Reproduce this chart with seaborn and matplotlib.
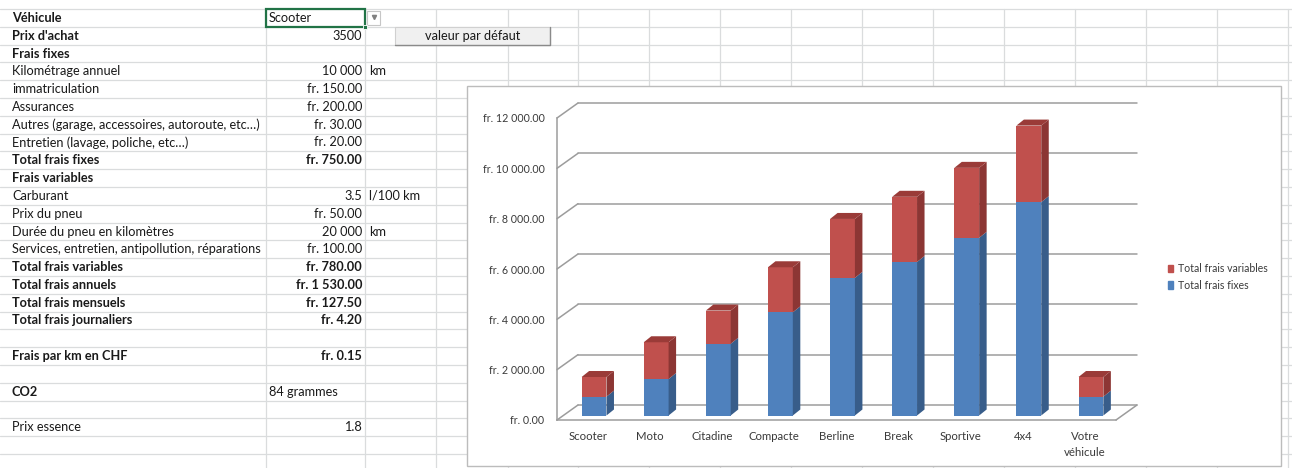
import numpy as np
import pandas as pd
import matplotlib
matplotlib.use("Agg")
import matplotlib.pyplot as plt
import matplotlib.patches as mpatches
import matplotlib.transforms as mtransforms
from matplotlib.ticker import FuncFormatter
import seaborn as sns

# ---- chart data -------------------------------------------------------
vehicules = ["Scooter", "Moto", "Citadine", "Compacte", "Berline", "Break",
             "Sportive", "4x4", "Votre\nvéhicule"]
frais_fixes = [750, 1450, 2850, 4100, 5470, 6100, 7060, 8480, 750]
frais_variables = [780, 1460, 1320, 1790, 2340, 2590, 2780, 3040, 780]
series_names = ["Total frais fixes", "Total frais variables"]
y_ticks = [0, 2000, 4000, 6000, 8000, 10000, 12000]

# ---- sheet content ----------------------------------------------------
sheet_labels = [
    "Véhicule", "Prix d'achat", "Frais fixes", "Kilométrage annuel",
    "immatriculation", "Assurances",
    "Autres (garage, accessoires, autoroute, etc…)",
    "Entretien (lavage, poliche, etc…)", "Total frais fixes",
    "Frais variables", "Carburant", "Prix du pneu",
    "Durée du pneu en kilomètres",
    "Services, entretien, antipollution, réparations",
    "Total frais variables", "Total frais annuels", "Total frais mensuels",
    "Total frais journaliers", "", "Frais par km en CHF", "", "CO2", "",
    "Prix essence",
]
sheet_values = [
    "Scooter", "3500", "", "10 000", "fr. 150.00", "fr. 200.00", "fr. 30.00",
    "fr. 20.00", "fr. 750.00", "", "3.5", "fr. 50.00", "20 000", "fr. 100.00",
    "fr. 780.00", "fr. 1 530.00", "fr. 127.50", "fr. 4.20", "", "fr. 0.15", "",
    "84 grammes", "", "1.8",
]
sheet_units = ["", "", "", "km", "", "", "", "", "", "", "l/100 km", "", "km",
               "", "", "", "", "", "", "", "", "", "", ""]
label_bold = [1, 1, 1, 0, 0, 0, 0, 0, 1, 1, 0, 0, 0, 0, 1, 1, 1, 1, 0, 1, 0, 1, 0, 0]
value_bold = [0, 0, 0, 0, 0, 0, 0, 0, 1, 0, 0, 0, 0, 0, 1, 1, 1, 1, 0, 1, 0, 0, 0, 0]
value_left = [1, 0, 0, 0, 0, 0, 0, 0, 0, 0, 0, 0, 0, 0, 0, 0, 0, 0, 0, 0, 0, 1, 0, 0]
button_text = "valeur par défaut"

# ---- styling ----------------------------------------------------------
sns.set_theme(style="white")
plt.rcParams["font.family"] = ["Lato", "DejaVu Sans"]

BLUE, BLUE_SIDE = "#4F81BD", "#385D8A"
RED, RED_SIDE, RED_TOP = "#C0504D", "#8C3634", "#9A3B38"
GRID = "#9c9c9c"
SHEET_LINE = "#dadcdd"
TXT = "#1a1a1a"
W, H = 1292, 468

fig = plt.figure(figsize=(W / 100, H / 100), dpi=100)
fig.patch.set_facecolor("white")

# background layer in pixel units for the worksheet
bg = fig.add_axes([0, 0, 1, 1], zorder=0)
bg.set_xlim(0, W)
bg.set_ylim(H, 0)
bg.axis("off")

row_h = 17.8
row_top = 9.0
col_lines = [266, 365, 436, 508, 578, 649, 720, 791, 862, 933, 1004, 1075,
             1146, 1217, 1288]
for k in range(27):
    y = row_top + k * row_h
    bg.plot([0, W], [y, y], color=SHEET_LINE, lw=0.9, zorder=1)
for x in col_lines:
    bg.plot([x, x], [row_top, H], color=SHEET_LINE, lw=0.9, zorder=1)

SHEET_FS = 9.2
for i, lab in enumerate(sheet_labels):
    yc = row_top + (i + 0.5) * row_h
    if lab:
        bg.text(12, yc, lab, fontsize=SHEET_FS, va="center", ha="left",
                color=TXT, fontweight="bold" if label_bold[i] else "normal",
                zorder=3)
    val = sheet_values[i]
    if val:
        if value_left[i]:
            bg.text(269, yc, val, fontsize=SHEET_FS, va="center", ha="left",
                    color=TXT, zorder=3)
        else:
            bg.text(362, yc, val, fontsize=SHEET_FS, va="center", ha="right",
                    color=TXT,
                    fontweight="bold" if value_bold[i] else "normal", zorder=3)
    if sheet_units[i]:
        bg.text(369, yc, sheet_units[i], fontsize=SHEET_FS, va="center",
                ha="left", color=TXT, zorder=3)

# selected cell with its fill handle, and the list arrow
bg.add_patch(mpatches.Rectangle((266, row_top), 99, row_h, fill=False,
                                edgecolor="#217346", lw=1.6, zorder=4))
bg.add_patch(mpatches.Rectangle((363, row_top + row_h - 2), 4, 4,
                                facecolor="#217346", edgecolor="white",
                                lw=0.6, zorder=5))
bg.add_patch(mpatches.Rectangle((367, 10.5), 13, 14, facecolor="white",
                                edgecolor="#c6c6c6", lw=0.8, zorder=4))
bg.plot([373.5], [16.5], marker="v", ms=3, color="#808080", zorder=5)

# form button
bg.add_patch(mpatches.Rectangle((395, 27), 155, 18, facecolor="#f0f0f0",
                                edgecolor="#d0d0d0", lw=0.8, zorder=4))
bg.plot([395, 550, 550], [45, 45, 27], color="#8a8a8a", lw=1.0, zorder=5)
bg.text(472.5, 36, button_text, fontsize=SHEET_FS, ha="center", va="center",
        color=TXT, zorder=6)

# chart panel
bg.add_patch(mpatches.Rectangle((467, 86), 814, 380, facecolor="white",
                                edgecolor="#bcbcbc", lw=1.0, zorder=6))

# ---- chart ------------------------------------------------------------
x_left, x_right = 557, 1116      # front floor edge
y_zero, y_top = 420, 118         # front plane values 0 and 12000
ax = fig.add_axes([x_left / W, 1 - y_zero / H, (x_right - x_left) / W,
                   (y_zero - y_top) / H], zorder=2)
ax.patch.set_alpha(0)

totals = [f + v for f, v in zip(frais_fixes, frais_variables)]
sns.barplot(x=vehicules, y=totals, color=RED, saturation=1, width=0.4,
            linewidth=0, ax=ax, zorder=3)
sns.barplot(x=vehicules, y=frais_fixes, color=BLUE, saturation=1, width=0.4,
            linewidth=0, ax=ax, zorder=3)
red_bars = list(ax.patches)[:len(vehicules)]
blue_bars = list(ax.patches)[len(vehicules):2 * len(vehicules)]

ax.set_xlim(-0.5, len(vehicules) - 0.5)
ax.set_ylim(0, y_ticks[-1])

# pixel <-> data conversion for the oblique depth
px_x = ax.bbox.width / (len(vehicules))
px_y = ax.bbox.height / y_ticks[-1]


def dx(p):
    return p / px_x


def dy(p):
    return p / px_y


# back wall and floor
wall_dx, wall_dy = 21, 15
x0, x1 = -0.5, len(vehicules) - 0.5
for v in y_ticks:
    ax.plot([x0 + dx(wall_dx), x1 + dx(wall_dx)], [v + dy(wall_dy)] * 2,
            color=GRID, lw=1.1, clip_on=False, zorder=1)
    ax.plot([x0, x0 + dx(wall_dx)], [v, v + dy(wall_dy)], color=GRID, lw=1.1,
            clip_on=False, zorder=1)
ax.plot([x1, x1 + dx(wall_dx)], [0, dy(wall_dy)], color=GRID, lw=1.1,
        clip_on=False, zorder=1)

# bars stand midway in the depth of the floor
shift = mtransforms.ScaledTranslation(6 / 100, 4.5 / 100, fig.dpi_scale_trans)
bar_tr = ax.transData + shift
depth_x, depth_y = dx(7.5), dy(6)
for rb, bb in zip(red_bars, blue_bars):
    rb.set_transform(bar_tr)
    bb.set_transform(bar_tr)
    rb.set_clip_on(False)
    bb.set_clip_on(False)
    xl = bb.get_x()
    xr = xl + bb.get_width()
    hb = bb.get_height()
    hr = rb.get_height()
    faces = [
        ([(xr, 0), (xr + depth_x, depth_y), (xr + depth_x, hb + depth_y),
          (xr, hb)], BLUE_SIDE),
        ([(xr, hb), (xr + depth_x, hb + depth_y), (xr + depth_x, hr + depth_y),
          (xr, hr)], RED_SIDE),
        ([(xl, hr), (xr, hr), (xr + depth_x, hr + depth_y),
          (xl + depth_x, hr + depth_y)], RED_TOP),
    ]
    for verts, col in faces:
        ax.add_patch(mpatches.Polygon(verts, closed=True, facecolor=col,
                                      edgecolor="none", transform=bar_tr,
                                      clip_on=False, zorder=3))

# axes
for side in ("top", "right"):
    ax.spines[side].set_visible(False)
for side in ("left", "bottom"):
    ax.spines[side].set_color(GRID)
    ax.spines[side].set_linewidth(1.1)
ax.set_yticks(y_ticks)
ax.yaxis.set_major_formatter(
    FuncFormatter(lambda v, _: "fr. " + f"{v:,.2f}".replace(",", " ")))
ax.set_xticks(np.arange(-0.5, len(vehicules), 1), minor=True)
ax.tick_params(axis="y", length=2, color=GRID, pad=7, labelsize=7.7,
               labelcolor="#3a3a3a")
ax.tick_params(axis="x", which="major", length=0, pad=8, labelsize=8.2,
               labelcolor="#3a3a3a")
ax.tick_params(axis="x", which="minor", length=4, color=GRID, width=1.1)
for t in ax.get_xticklabels():
    t.set_linespacing(1.5)
ax.set_xlabel("")
ax.set_ylabel("")
ax.grid(False)

# legend
handles = [mpatches.Patch(color=RED), mpatches.Patch(color=BLUE)]
fig.legend(handles, [series_names[1], series_names[0]], loc="center left",
           bbox_to_anchor=(1158 / W, 1 - 277 / H), frameon=False,
           handlelength=0.55, handleheight=0.75, handletextpad=0.4,
           labelspacing=0.55, fontsize=7.6, labelcolor="#3a3a3a")

fig.savefig("out.png", dpi=100, facecolor="white")
